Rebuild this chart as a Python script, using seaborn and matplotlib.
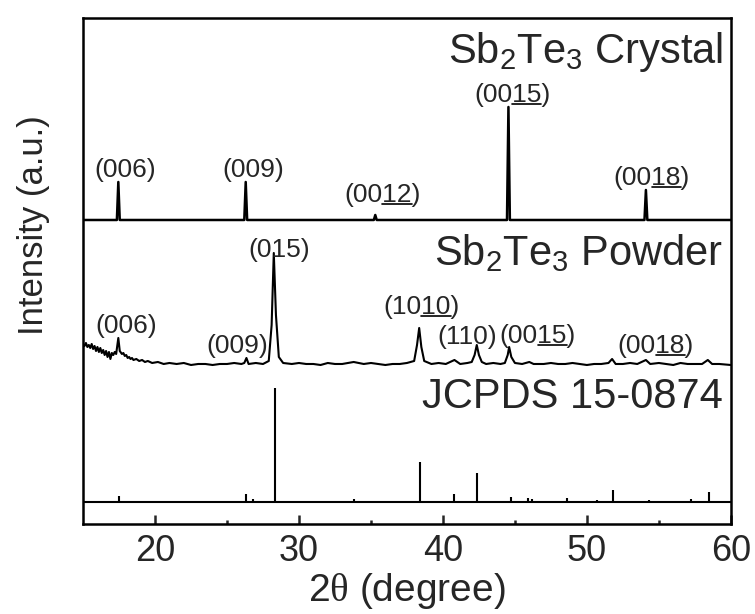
import numpy as np
import pandas as pd
import matplotlib
matplotlib.use("Agg")
import matplotlib.pyplot as plt
from matplotlib.lines import Line2D
import seaborn as sns

# %%
# values (x = 2theta in degree, y = intensity, arbitrary units)
crystal_x = [15.0, 17.35, 17.45, 17.55, 26.2, 26.3, 26.4, 35.2, 35.3, 35.4,
             44.45, 44.55, 44.65, 54.0, 54.1, 54.2, 60.0]
crystal_y = [0, 0, 38, 0, 0, 38, 0, 0, 5, 0, 0, 113, 0, 0, 30, 0, 0]

powder_x = [15.0, 15.1, 15.2, 15.3, 15.4, 15.5, 15.6, 15.7, 15.8, 15.9, 16.0,
            16.1, 16.2, 16.3, 16.4, 16.5, 16.6, 16.7, 16.8, 16.9, 17.0, 17.1,
            17.2, 17.3, 17.45, 17.55, 17.7, 17.8, 17.9, 18.0, 18.1, 18.2, 18.3,
            18.4, 18.5, 18.7, 18.9, 19.1, 19.3, 19.5, 19.8, 20.2, 20.6, 21.0,
            21.5, 22.0, 22.5, 23.0, 23.5, 24.0, 24.5, 25.0, 25.5, 26.0, 26.2,
            26.35, 26.5, 27.0, 27.5, 27.9, 28.1, 28.25, 28.4, 28.6, 28.9, 29.5,
            30.0, 30.5, 31.0, 31.5, 32.0, 32.5, 33.0, 33.8, 34.5, 35.0, 35.5,
            36.0, 36.5, 37.0, 37.5, 38.0, 38.2, 38.35, 38.5, 38.7, 39.2, 39.7,
            40.2, 40.8, 41.2, 41.7, 42.0, 42.2, 42.35, 42.5, 42.7, 43.0, 43.5,
            44.0, 44.3, 44.5, 44.6, 44.75, 45.0, 45.5, 46.0, 46.3, 47.0, 47.5,
            48.0, 48.5, 49.0, 49.5, 50.0, 50.5, 51.0, 51.5, 51.75, 52.0, 52.5,
            53.0, 53.5, 54.1, 54.4, 55.0, 55.5, 56.0, 56.5, 57.0, 57.5, 58.0,
            58.4, 58.7, 59.2, 60.0]
powder_y = [21, 19, 22, 18, 20, 17, 21, 16, 19, 14, 18, 13, 17, 12, 15, 10, 14,
            8, 13, 6, 12, 10, 13, 11, 27, 14, 11, 12, 9, 10, 7, 8, 6, 7, 5, 6, 4,
            5, 3, 4, 2, 3, 1, 2, 1, 2, 0, 1, 1, 0, 1, 1, 2, 1, 2, 7, 1, 2, 1, 4,
            40, 112, 50, 8, 2, 1, 2, 1, 1, 0, 2, 1, 1, 3, 1, 2, 1, 0, 1, 1, 2, 4,
            20, 37, 18, 4, 1, 2, 1, 5, 1, 2, 3, 10, 20, 10, 3, 1, 2, 1, 2, 10,
            18, 8, 2, 1, 3, 1, 1, 2, 1, 1, 2, 1, 0, 1, 1, 2, 6, 1, 1, 2, 1, 5,
            1, 2, 1, 0, 2, 1, 1, 1, 5, 1, 1, 0]

jcpds_x = [17.5, 26.3, 26.8, 28.3, 33.8, 38.4, 40.8, 42.4, 44.7, 45.9, 46.2,
           48.6, 50.7, 51.8, 54.3, 57.2, 58.5]
jcpds_y = [6, 8, 3, 114, 3, 40, 8, 29, 5, 4, 3, 4, 2, 12, 2, 3, 10]

offsets = {"crystal": 304, "powder": 159, "jcpds": 22}

# (x, prefix, underlined part, suffix, height above baseline)
crystal_labels = [(17.9, "(006)", "", "", 38), (26.8, "(009)", "", "", 38),
                  (35.8, "(00", "12", ")", 13),
                  (44.8, "(00", "15", ")", 113),
                  (54.5, "(00", "18", ")", 30)]
powder_labels = [(18.0, "(006)", "", "", 27), (25.7, "(009)", "", "", 7),
                 (28.6, "(015)", "", "", 103),
                 (38.5, "(10", "10", ")", 46), (41.7, "(110)", "", "", 16),
                 (46.6, "(00", "15", ")", 17), (54.8, "(00", "18", ")", 7)]

# %%
sns.set_style("white")
plt.rcParams["font.family"] = ["Liberation Sans", "DejaVu Sans"]
plt.rcParams["mathtext.fontset"] = "custom"
plt.rcParams["mathtext.rm"] = "Liberation Sans"
plt.rcParams["mathtext.it"] = "Liberation Serif"
plt.rcParams["mathtext.default"] = "regular"

fig = plt.figure(figsize=(7.55, 6.14), dpi=100)
ax = fig.add_axes([0.110, 0.1466, 0.858, 0.8241])

crystal = pd.DataFrame({"x": crystal_x, "y": np.array(crystal_y) + offsets["crystal"]})
powder = pd.DataFrame({"x": powder_x, "y": np.array(powder_y) + offsets["powder"]})

sns.lineplot(data=crystal, x="x", y="y", ax=ax, color="black", lw=1.8,
             estimator=None, sort=False)
sns.lineplot(data=powder, x="x", y="y", ax=ax, color="black", lw=1.5,
             estimator=None, sort=False)
ax.vlines(jcpds_x, offsets["jcpds"], np.array(jcpds_y) + offsets["jcpds"],
          color="black", lw=1.5)
ax.hlines(offsets["jcpds"], 15, 60, color="black", lw=1.5)

ax.text(59.45, 461, r"Sb$_2$Te$_3$ Crystal", ha="right", va="baseline", fontsize=30)
ax.text(59.45, 259, r"Sb$_2$Te$_3$ Powder", ha="right", va="baseline", fontsize=30)
ax.text(59.45, 116, "JCPDS 15-0874", ha="right", va="baseline", fontsize=30)

ax.set_xlim(15, 60)
ax.set_ylim(0, 506)
ax.set_xticks([20, 30, 40, 50, 60])
ax.set_xticks([25, 35, 45, 55], minor=True)
ax.set_yticks([])
ax.tick_params(axis="x", which="major", direction="in", length=6.5, width=1.8,
               labelsize=26, pad=7, bottom=True)
ax.tick_params(axis="x", which="minor", direction="in", length=3, width=1.8, bottom=True)
for sp in ax.spines.values():
    sp.set_linewidth(1.8)
    sp.set_color("black")

ax.set_xlabel(r"$\mathit{2\theta}$ (degree)", fontsize=28)
ax.set_ylabel("Intensity (a.u.)", fontsize=25)
ax.xaxis.set_label_coords(0.5, -0.092)
ax.yaxis.set_label_coords(-0.051, 0.59)

# peak labels, with the underlined digits drawn as a short line
renderer = fig.canvas.get_renderer()


def text_width(s):
    t = fig.text(0, 0, s, fontsize=19)
    w = t.get_window_extent(renderer).width
    t.remove()
    return w


for labels, off in [(crystal_labels, offsets["crystal"]), (powder_labels, offsets["powder"])]:
    for x, pre, ul, suf, h in labels:
        t = ax.text(x, h + off, pre + ul + suf, ha="center", va="bottom", fontsize=19)
        if ul:
            bb = t.get_window_extent(renderer)
            x0 = bb.x0 + text_width(pre)
            x1 = bb.x0 + text_width(pre + ul)
            y = bb.y0 + 3
            W, H = fig.bbox.width, fig.bbox.height
            fig.add_artist(Line2D([x0 / W, x1 / W], [y / H, y / H], color="black", lw=1.2))

plt.savefig("out.png", dpi=100)
